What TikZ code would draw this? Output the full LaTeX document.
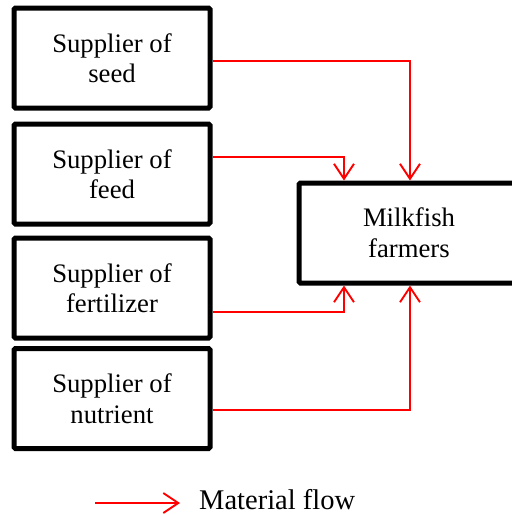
\documentclass[tikz,border=0pt]{standalone}
\usepackage{fontspec}
\setmainfont{Liberation Serif}
\usetikzlibrary{arrows.meta}
\tikzset{
  supbox/.style={draw=black, line width=5pt, rounded corners=1.5pt, minimum width=196pt, minimum height=100pt, inner sep=0pt, align=center, font=\fontsize{26.7pt}{30.5pt}\selectfont},
  farmbox/.style={draw=black, line width=5pt, rounded corners=1.5pt, minimum width=220pt, minimum height=100pt, inner sep=0pt, align=center, font=\fontsize{26.7pt}{31pt}\selectfont},
  flow/.style={draw=red, line width=1.9pt, -{Straight Barb[length=15pt, width=20pt, line width=1.9pt]}},
}
\begin{document}
\begin{tikzpicture}[x=1pt, y=-1pt]
\clip (0,0) rectangle (512,515);
\useasboundingbox (0,0) rectangle (512,515);
\node[supbox] (seed) at (112,58) {Supplier of\\seed};
\node[supbox] (feed) at (112,174) {Supplier of\\feed};
\node[supbox] (fert) at (112,288) {Supplier of\\fertilizer};
\node[supbox] (nutr) at (112,398.5) {Supplier of\\nutrient};
\node[farmbox] (farm) at (409,233) {Milkfish\\farmers};
\coordinate (c1) at (410,61);
\coordinate (c2) at (344,157);
\coordinate (c3) at (344,312);
\coordinate (c4) at (410,410);
\draw[flow] (seed.east |- c1) -- (c1) -- (c1 |- farm.north);
\draw[flow] (feed.east |- c2) -- (c2) -- (c2 |- farm.north);
\draw[flow] (fert.east |- c3) -- (c3) -- (c3 |- farm.south);
\draw[flow] (nutr.east |- c4) -- (c4) -- (c4 |- farm.south);
\coordinate (la) at (95,503);
\coordinate (lb) at (180,503);
\draw[flow] (la) -- (lb);
\node[anchor=base west, inner sep=0pt, font=\fontsize{28.5pt}{32pt}\selectfont] (leg) at (199,509) {Material flow};
\end{tikzpicture}
\end{document}
